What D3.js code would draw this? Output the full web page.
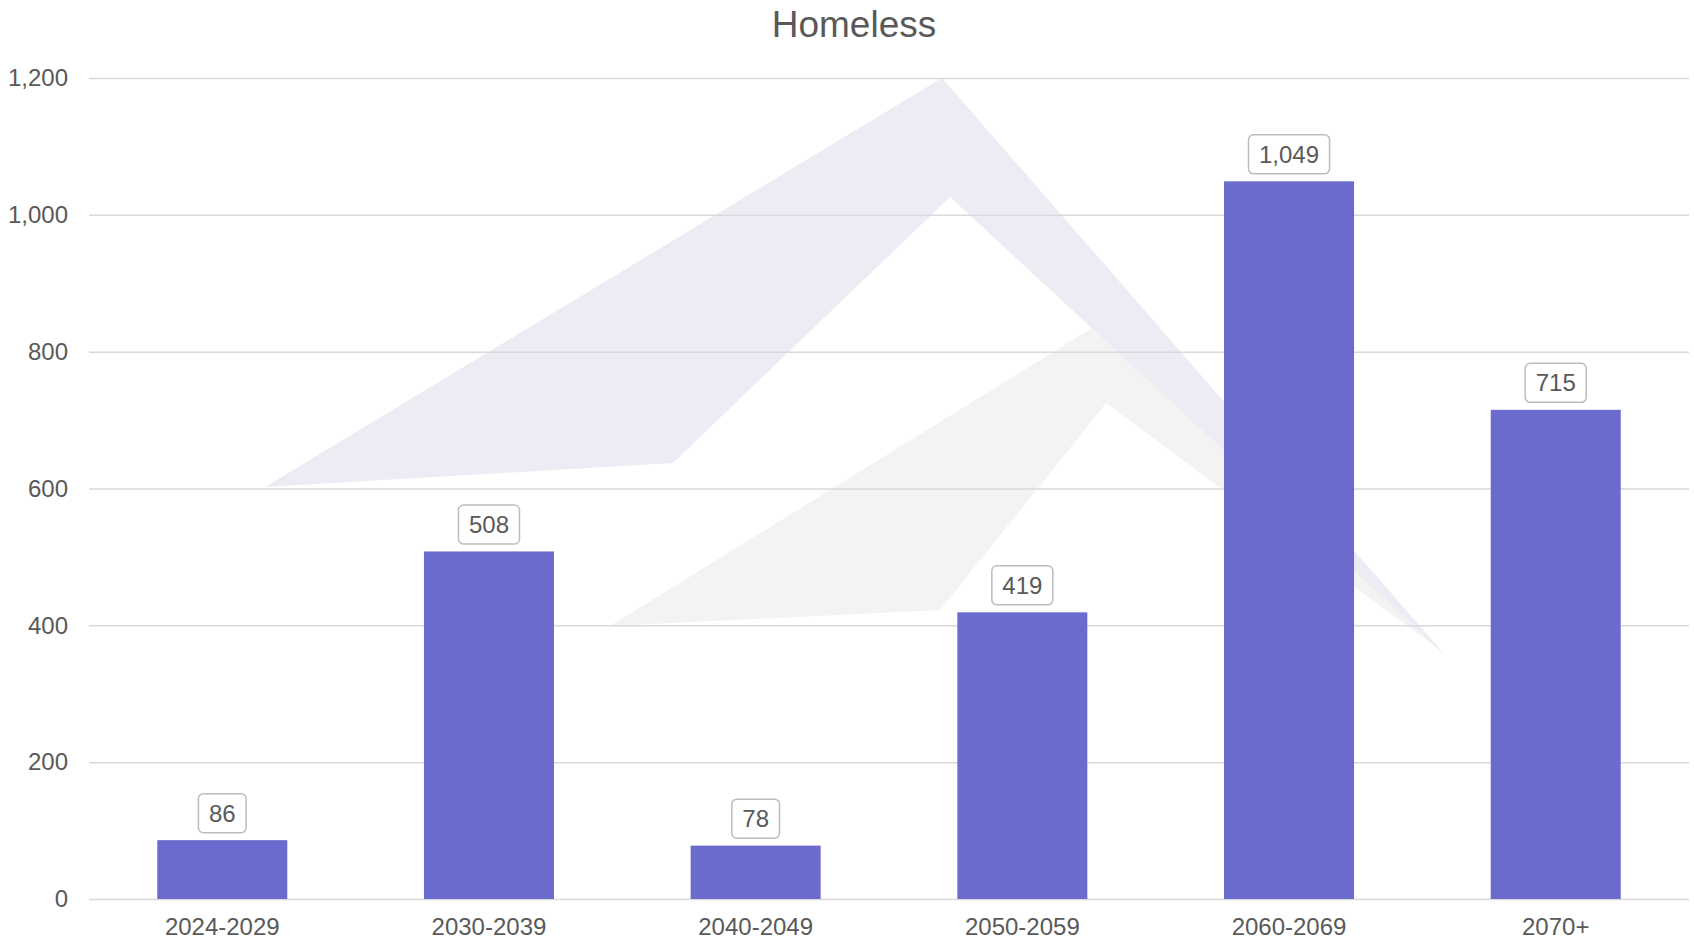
<!DOCTYPE html>
<html>
<head>
<meta charset="utf-8">
<script src="https://cdn.jsdelivr.net/npm/d3@7"></script>
<style>
  body { margin: 0; background: #fff; }
  svg { display: block; font-family: "Liberation Sans", Arial, sans-serif; }
</style>
</head>
<body>
<svg width="1694" height="942"></svg>
<script>
var categories = ["2024-2029", "2030-2039", "2040-2049", "2050-2059", "2060-2069", "2070+"];
var values = [86, 508, 78, 419, 1049, 715];
var yTicks = [0, 200, 400, 600, 800, 1000, 1200];

// background logo (decoration only)
var logoPurple = [[265,487],[942,78],[1446,656],[950,197],[673,463]];
var logoGray = [[610,626],[1092,328],[1440,650],[1106,403],[940,610]];

var svg = d3.select("svg");
var fmt = d3.format(",");

var x = d3.scaleBand().domain(categories).range([89, 1689]).paddingInner(0.5125).paddingOuter(0.256);
var y = d3.scaleLinear().domain([0, 1200]).range([899, 78]);

svg.append("text")
    .attr("x", 854).attr("y", 37)
    .attr("text-anchor", "middle")
    .style("font-size", "37px").style("fill", "#595959")
    .text("Homeless");

svg.append("polygon").attr("points", logoGray.join(" ")).style("fill", "#f3f3f3");
svg.append("polygon").attr("points", logoPurple.join(" ")).style("fill", "#edebf4");

// gridlines + y labels
var yAxis = svg.append("g")
    .attr("transform", "translate(89,0)")
    .call(d3.axisLeft(y).tickValues(yTicks).tickFormat(fmt).tickSize(-1600).tickPadding(21));
yAxis.select(".domain").remove();
yAxis.selectAll(".tick line").style("stroke", "#d9d9d9").style("stroke-width", "1.5px");
yAxis.selectAll(".tick text").style("font-size", "24px").style("fill", "#595959").style("font-family", "Liberation Sans, Arial, sans-serif");

// x labels
var xAxis = svg.append("g")
    .attr("transform", "translate(0,899)")
    .call(d3.axisBottom(x).tickSize(0).tickPadding(19));
xAxis.select(".domain").remove();
xAxis.selectAll(".tick text").style("font-size", "24px").style("fill", "#595959").style("font-family", "Liberation Sans, Arial, sans-serif");

svg.selectAll("rect.bar")
    .data(values)
    .enter()
    .append("rect")
    .attr("class", "bar")
    .attr("x", function(d, i) { return x(categories[i]); })
    .attr("y", function(d) { return y(d); })
    .attr("width", x.bandwidth())
    .attr("height", function(d) { return y(0) - y(d); })
    .style("fill", "#6b6bcd");

// value labels in boxes
var lbl = svg.selectAll("g.lbl")
    .data(values)
    .enter()
    .append("g")
    .attr("class", "lbl")
    .attr("transform", function(d, i) { return "translate(" + (x(categories[i]) + x.bandwidth() / 2) + "," + (y(d) - 27) + ")"; });

lbl.append("text")
    .attr("text-anchor", "middle")
    .attr("dy", "0.36em")
    .style("font-size", "24px").style("fill", "#595959")
    .text(function(d) { return fmt(d); });

lbl.each(function() {
    var g = d3.select(this);
    var w = g.select("text").node().getComputedTextLength() + 21;
    g.insert("rect", "text")
        .attr("x", -w / 2).attr("y", -19.5)
        .attr("width", w).attr("height", 39)
        .attr("rx", 5).attr("ry", 5)
        .style("fill", "#fff").style("stroke", "#bdbdbd").style("stroke-width", "1.5px");
});
</script>
</body>
</html>
